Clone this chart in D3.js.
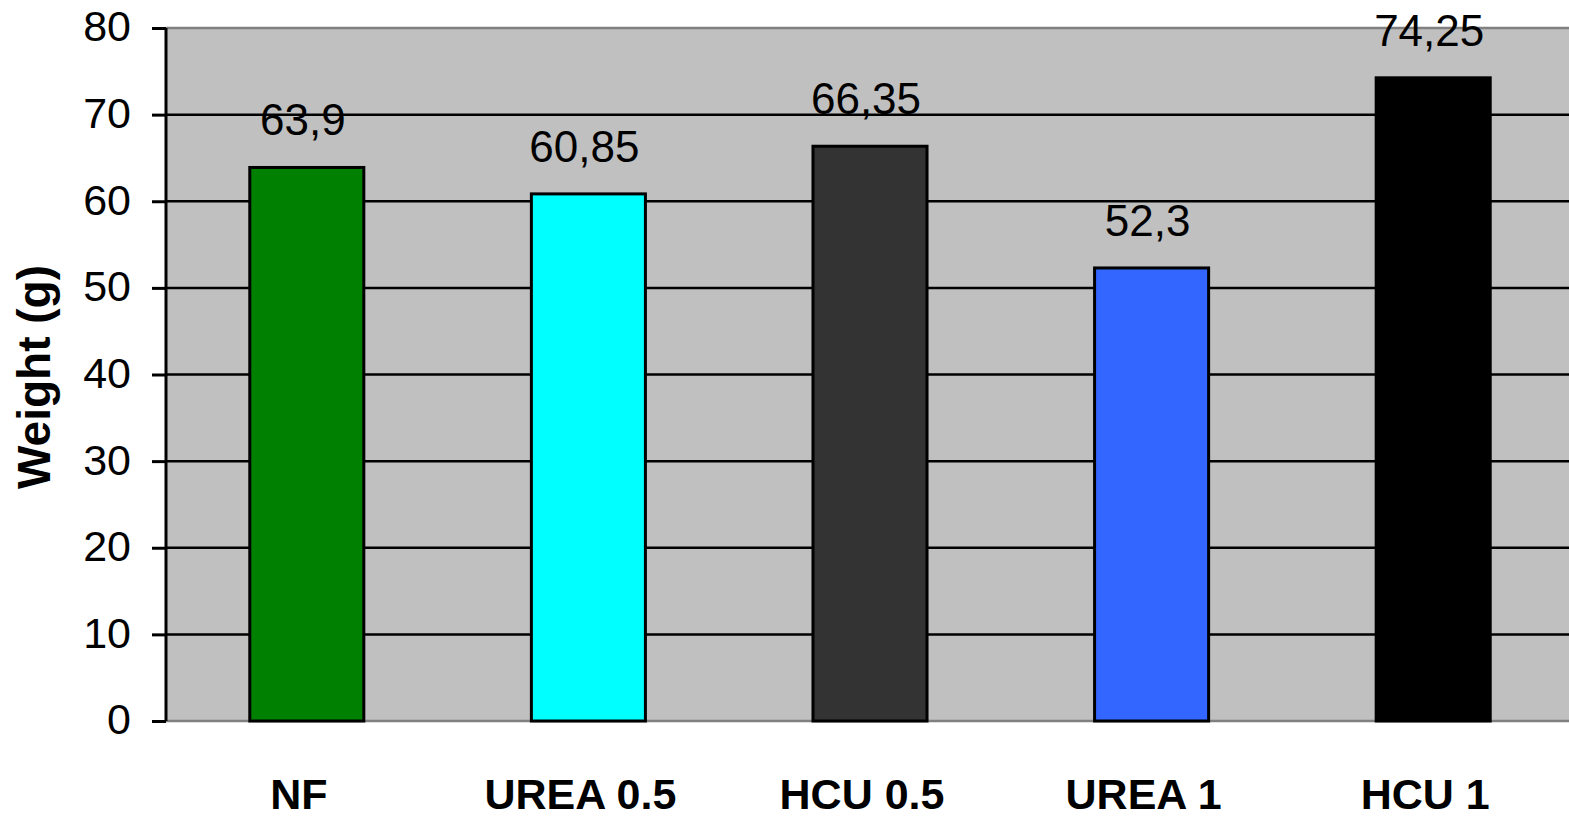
<!DOCTYPE html>
<html><head><meta charset="utf-8">
<script src="https://cdn.jsdelivr.net/npm/d3@7"></script>
<style>
html,body{margin:0;padding:0;background:#fff;}
svg{display:block;font-family:Arial,"Liberation Sans",sans-serif;}
</style></head>
<body>
<svg id="chart" width="1569" height="818"></svg>
<script>
const categories = ["NF", "UREA 0.5", "HCU 0.5", "UREA 1", "HCU 1"];
const values = [63.9, 60.85, 66.35, 52.3, 74.25];
const valueLabels = ["63,9", "60,85", "66,35", "52,3", "74,25"];
const barColors = ["#008000", "#00FFFF", "#333333", "#3366FF", "#000000"];
const yTicks = [0, 10, 20, 30, 40, 50, 60, 70, 80];
const yTitle = "Weight (g)";

(function () {
const svg = d3.select("#chart");
const pL = 166, pR = 1574, pT = 28, pB = 721;

const x = d3.scaleBand().domain(categories).range([pL, pR]).paddingInner(0.595).paddingOuter(0.2975);
const y = d3.scaleLinear().domain([0, 80]).range([pB, pT]);

// plot background
svg.append("rect").attr("x", pL).attr("y", pT).attr("width", pR - pL).attr("height", pB - pT).attr("fill", "#C0C0C0");

// gridlines
svg.append("g").selectAll("line").data(yTicks.filter(d => d > 0 && d < 80)).join("line")
  .attr("x1", pL).attr("x2", pR).attr("y1", d => y(d)).attr("y2", d => y(d))
  .attr("stroke", "#000").attr("stroke-width", 2.5);

// top and bottom borders
svg.append("line").attr("x1", pL).attr("x2", pR).attr("y1", y(80)).attr("y2", y(80)).attr("stroke", "#808080").attr("stroke-width", 2.5);
svg.append("line").attr("x1", pL).attr("x2", pR).attr("y1", y(0)).attr("y2", y(0)).attr("stroke", "#808080").attr("stroke-width", 2.5);

// bars
svg.append("g").selectAll("rect").data(categories).join("rect")
  .attr("x", d => x(d)).attr("width", x.bandwidth())
  .attr("y", (d, i) => y(values[i])).attr("height", (d, i) => y(0) - y(values[i]))
  .attr("fill", (d, i) => barColors[i]).attr("stroke", "#000").attr("stroke-width", 3);

// value labels
svg.append("g").selectAll("text").data(categories).join("text")
  .attr("x", d => x(d) + x.bandwidth() / 2 - 4).attr("y", (d, i) => y(values[i]) - 32)
  .attr("text-anchor", "middle").attr("font-size", 44).attr("fill", "#000")
  .text((d, i) => valueLabels[i]);

// y axis
const yAxis = d3.axisLeft(y).tickValues(yTicks).tickSize(14).tickPadding(21).tickFormat(d3.format("d"));
const ga = svg.append("g").attr("transform", `translate(${pL},0)`).call(yAxis);
ga.select(".domain").attr("stroke", "#000").attr("stroke-width", 3).attr("d", `M0,${pT}V${pB}`);
ga.selectAll(".tick line").attr("stroke", "#000").attr("stroke-width", 3);
ga.selectAll(".tick text").attr("font-size", 43).attr("fill", "#000").attr("font-family", "Arial, 'Liberation Sans', sans-serif").attr("dy", "0.3em");

// x labels
svg.append("g").selectAll("text").data(categories).join("text")
  .attr("x", d => x(d) + x.bandwidth() / 2 - 8).attr("y", 808.5)
  .attr("text-anchor", "middle").attr("font-size", 43).attr("font-weight", "bold").attr("fill", "#000")
  .text(d => d);

// y title
svg.append("text").attr("transform", "translate(50,377) rotate(-90)")
  .attr("text-anchor", "middle").attr("font-size", 46).attr("font-weight", "bold").attr("fill", "#000")
  .text(yTitle);
})();
</script>
</body></html>
